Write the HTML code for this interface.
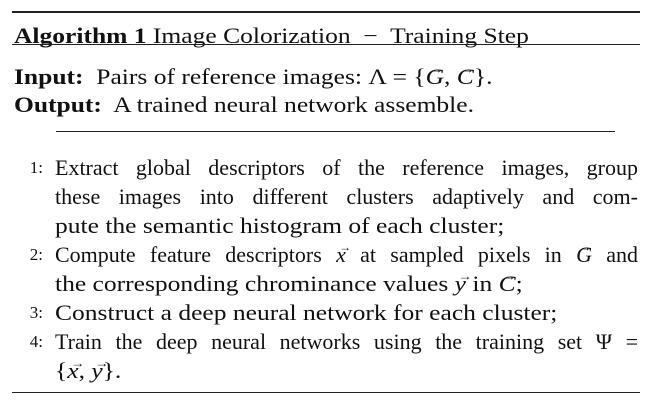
<!DOCTYPE html>
<html><head><meta charset="utf-8"><style>
body{margin:0;width:650px;height:410px;background:#fff;overflow:hidden;font-family:"Liberation Serif",serif;color:#111;}
.r{position:absolute;background:#222;}
.l{position:absolute;font-size:22px;line-height:28px;white-space:nowrap;}
.s{transform:scaleX(1.16);transform-origin:0 50%;}
.j{left:55px;width:583px;text-align:justify;text-align-last:justify;}
.n{position:absolute;font-size:17px;line-height:28px;width:40px;text-align:right;left:3px;}
.v{font-style:italic;position:relative;}
.v::after{content:"\2192";font-style:normal;font-size:12px;position:absolute;left:3px;top:-9px;}
</style></head><body>
<div class="r" style="left:12px;top:11px;width:628px;height:2px"></div>
<div class="l s" style="left:14px;top:22px"><b>Algorithm 1</b> Image Colorization &nbsp;&minus;&nbsp; Training Step</div>
<div class="r" style="left:12px;top:44px;width:628px;height:1px"></div>
<div class="l s" style="left:14px;top:63px"><b>Input:</b>&nbsp; Pairs of reference images: Λ = {<span class="v">G</span>, <span class="v">C</span>}.</div>
<div class="l s" style="left:14px;top:91px"><b>Output:</b>&nbsp; A trained neural network assemble.</div>
<div class="r" style="left:56px;top:131px;width:559px;height:1px"></div>

<div class="n" style="top:154px">1:</div>
<div class="l j" style="top:154px">Extract global descriptors of the reference images, group</div>
<div class="l j" style="top:183px">these images into different clusters adaptively and com-</div>
<div class="l s" style="left:55px;top:212px">pute the semantic histogram of each cluster;</div>
<div class="n" style="top:241px">2:</div>
<div class="l j" style="top:241px">Compute feature descriptors <span class="v">x</span> at sampled pixels in <span class="v">G</span> and</div>
<div class="l s" style="left:55px;top:270px">the corresponding chrominance values <span class="v">y</span> in <span class="v">C</span>;</div>
<div class="n" style="top:299px">3:</div>
<div class="l s" style="left:55px;top:299px">Construct a deep neural network for each cluster;</div>
<div class="n" style="top:328px">4:</div>
<div class="l j" style="top:328px">Train the deep neural networks using the training set Ψ =</div>
<div class="l s" style="left:55px;top:357px">{<span class="v">x</span>, <span class="v">y</span>}.</div>
<div class="r" style="left:12px;top:392px;width:628px;height:1px"></div>
</body></html>
